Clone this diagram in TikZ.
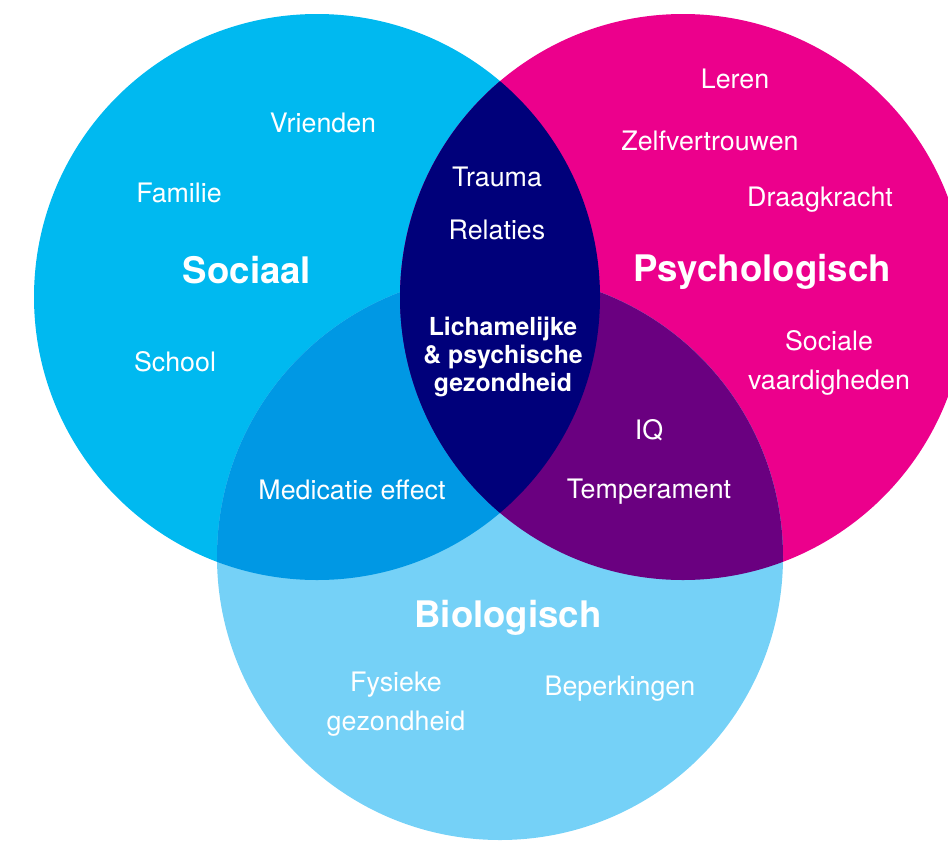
\documentclass[tikz,border=0pt]{standalone}
\usepackage{fontspec}
\setmainfont{TeX Gyre Heros}
\definecolor{sociaal}{RGB}{0,185,240}
\definecolor{psycho}{RGB}{236,0,140}
\definecolor{bio}{RGB}{117,209,247}
\definecolor{sobio}{RGB}{0,152,228}
\definecolor{psbio}{RGB}{106,0,128}
\definecolor{sops}{RGB}{0,0,122}

\begin{document}
\begin{tikzpicture}[x=0.5pt, y=-0.5pt,
    item/.style={text=white, align=center, font=\fontsize{13.4}{19.5}\selectfont},
    head/.style={text=white, font=\bfseries\fontsize{18.3}{22}\selectfont},
    core/.style={text=white, align=center, font=\bfseries\fontsize{12.4}{13.9}\selectfont}]

    \clip (0,0) rectangle (948,841);
    \coordinate (cS) at (317,297);
    \coordinate (cP) at (683,297);
    \coordinate (cB) at (500,557);

    % circles
    \fill[sociaal] (cS) circle (283);
    \fill[psycho] (cP) circle (283);
    \fill[bio] (cB) circle (283);

    % overlaps
    \begin{scope}
        \clip (cS) circle (283);
        \fill[sobio] (cB) circle (283);
    \end{scope}
    \begin{scope}
        \clip (cP) circle (283);
        \fill[psbio] (cB) circle (283);
    \end{scope}
    \begin{scope}
        \clip (cS) circle (283);
        \fill[sops] (cP) circle (283);
    \end{scope}

    % labels
    \node[head] (sociaal) at (247,270) {Sociaal};
    \node[head] (psycho) at (762,272) {Psychologisch};
    \node[head] (bio) at (508,618) {Biologisch};

    \node[item] (vrienden) at (323,123) {Vrienden};
    \node[item] (familie) at (179,193) {Familie};
    \node[item] (school) at (175,362) {School};
    \node[item] (trauma) at (497,177) {Trauma};
    \node[item] (relaties) at (497,230) {Relaties};
    \node[item] (leren) at (735,79) {Leren};
    \node[item] (zelf) at (710,141) {Zelfvertrouwen};
    \node[item] (draag) at (820,200) {Draagkracht};
    \node[item] (sociale) at (829,363) {Sociale\\vaardigheden};
    \node[item] (iq) at (649,430) {IQ};
    \node[item] (temp) at (649,492) {Temperament};
    \node[item] (medi) at (352,490) {Medicatie effect};
    \node[item] (fysiek) at (396,704) {Fysieke\\gezondheid};
    \node[item] (beperk) at (620,689) {Beperkingen};
    \node[core] (kern) at (503,357) {Lichamelijke\\\& psychische\\gezondheid};
\end{tikzpicture}
\end{document}
